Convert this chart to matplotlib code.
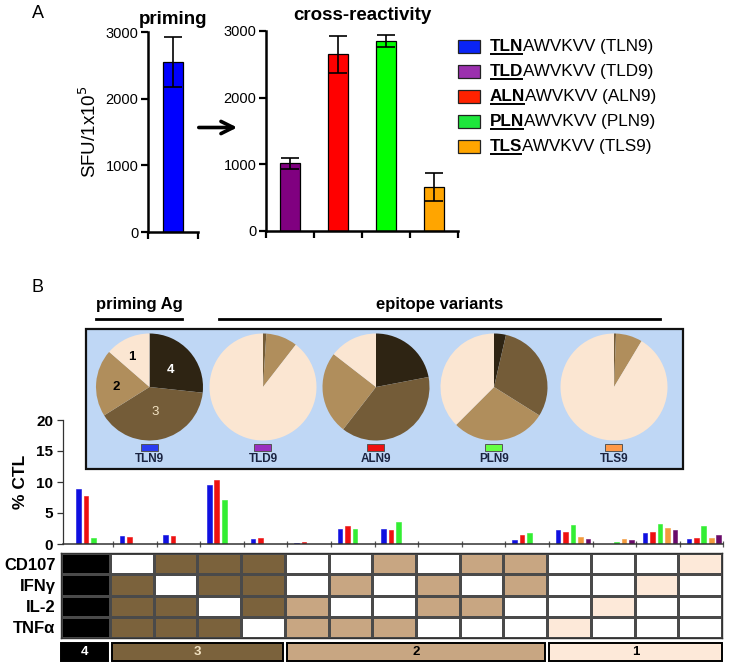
import matplotlib
matplotlib.use("Agg")
import matplotlib.pyplot as plt
from matplotlib.patches import Rectangle
from matplotlib.colors import ListedColormap, BoundaryNorm
import numpy as np

plt.rcParams['font.family'] = ['Liberation Sans', 'DejaVu Sans']

# ---------------- data ----------------
# Panel A
prime_labels = ['TLN9']
prime_vals = [2550]
prime_err = [380]
cross_labels = ['TLD9', 'ALN9', 'PLN9', 'TLS9']
cross_vals = [1015, 2650, 2845, 660]
cross_err = [80, 275, 90, 215]
yticks_A = [0, 1000, 2000, 3000]

legend_prefix = ['TLN', 'TLD', 'ALN', 'PLN', 'TLS']
legend_rest = ['AWVKVV (TLN9)', 'AWVKVV (TLD9)', 'AWVKVV (ALN9)', 'AWVKVV (PLN9)', 'AWVKVV (TLS9)']

# Panel B pies: fractions (%) of 4,3,2,1 functions
pie_labels = ['TLN9', 'TLD9', 'ALN9', 'PLN9', 'TLS9']
pie_f4 = [26.7, 0.0, 22.0, 3.6, 0.0]
pie_f3 = [39.4, 1.0, 38.5, 30.3, 0.6]
pie_f2 = [20.3, 9.5, 25.0, 28.6, 8.0]
pie_f1 = [13.6, 89.5, 14.5, 37.5, 91.4]

# Panel B bars: % CTL per functional combination (15 columns)
ctl_TLN9 = [8.8, 1.3, 1.5, 9.5, 0.8, 0.1, 2.4, 2.4, 0.0, 0.0, 0.7, 2.2, 0.0, 1.75, 0.75]
ctl_ALN9 = [7.7, 1.1, 1.3, 10.4, 0.95, 0.3, 2.9, 2.2, 0.05, 0.0, 1.4, 2.0, 0.05, 2.0, 0.95]
ctl_PLN9 = [1.0, 0.0, 0.05, 7.1, 0.0, 0.0, 2.4, 3.5, 0.0, 0.0, 1.7, 3.0, 0.3, 3.3, 2.85]
ctl_TLS9 = [0.0, 0.0, 0.0, 0.0, 0.0, 0.0, 0.05, 0.0, 0.0, 0.0, 0.0, 1.05, 0.8, 2.6, 0.9]
ctl_TLD9 = [0.0, 0.0, 0.0, 0.0, 0.0, 0.0, 0.0, 0.0, 0.0, 0.0, 0.0, 0.75, 0.65, 2.2, 1.4]
yticks_B = [0, 5, 10, 15, 20]

# functional profile (1 = positive)
row_labels = ['CD107', 'IFNγ', 'IL-2', 'TNFα']
cd107 = [1, 0, 1, 1, 1, 0, 0, 1, 0, 1, 1, 0, 0, 0, 1]
ifng  = [1, 1, 0, 1, 1, 0, 1, 0, 1, 0, 1, 0, 0, 1, 0]
il2   = [1, 1, 1, 0, 1, 1, 0, 0, 1, 1, 0, 0, 1, 0, 0]
tnfa  = [1, 1, 1, 1, 0, 1, 1, 1, 0, 0, 0, 1, 0, 0, 0]
group_names = ['4', '3', '2', '1']

# ---------------- styles ----------------
colA = {'TLN9': '#0000ff', 'TLD9': '#800080', 'ALN9': '#ff0000', 'PLN9': '#00ff00', 'TLS9': '#ffa500'}
colLeg = ['#0a24f5', '#9b30ae', '#ff2200', '#1ee63c', '#ffa500']
colB = {'TLN9': '#1010e0', 'ALN9': '#ee1111', 'PLN9': '#33ee33', 'TLS9': '#f39a3c', 'TLD9': '#6a0a6a'}
colMark = ['#2b3cf0', '#9a2fc0', '#ee1010', '#66ff44', '#ff9a4a']
pie_cols = ['#2e2413', '#745c38', '#b08e5c', '#fbe6d2']
heat_cols = ['#ffffff', '#fde9d9', '#c8a682', '#7b623c', '#000000']

W, H = 729, 667
fig = plt.figure(figsize=(W / 100, H / 100), dpi=100)


def ax_px(x0, y0, x1, y1, **kw):
    return fig.add_axes([x0 / W, 1 - y1 / H, (x1 - x0) / W, (y1 - y0) / H], **kw)


# overlay for annotations
ov = ax_px(0, 0, W, H)
ov.set_xlim(0, W)
ov.set_ylim(H, 0)
ov.axis('off')

# ---------------- Panel A ----------------
ov.text(38, 14, 'A', fontsize=13, ha='center', va='center')


def style_A(ax, n):
    ax.set_ylim(0, 3000)
    ax.set_xlim(-0.5, n - 0.5)
    ax.set_yticks(yticks_A)
    ax.set_xticks(np.arange(n + 1) - 0.5)
    ax.set_xticklabels([])
    for s in ['top', 'right']:
        ax.spines[s].set_visible(False)
    for s in ['left', 'bottom']:
        ax.spines[s].set_linewidth(1.8)
    ax.tick_params(axis='both', length=5, width=1.6, labelsize=10.5, pad=2)
    ax.patch.set_alpha(0)


axp = ax_px(148, 32, 198, 232)
axp.bar(range(len(prime_vals)), prime_vals, width=0.4, color=[colA[l] for l in prime_labels],
        edgecolor='black', linewidth=0.9, yerr=prime_err, capsize=6.5,
        error_kw=dict(elinewidth=1.2, capthick=1.2, ecolor='black'))
style_A(axp, 1)
axp.set_ylabel('SFU/1x10$^5$', fontsize=13.5, labelpad=4)
axp.set_title('priming', fontsize=13.5, fontweight='bold', pad=6)

axc = ax_px(266, 31, 458, 231)
axc.bar(range(len(cross_vals)), cross_vals, width=0.4, color=[colA[l] for l in cross_labels],
        edgecolor='black', linewidth=0.9, yerr=cross_err, capsize=6.5,
        error_kw=dict(elinewidth=1.2, capthick=1.2, ecolor='black'))
style_A(axc, 4)
axc.set_title('cross-reactivity', fontsize=13.5, fontweight='bold', pad=8)

ov.annotate('', xy=(240, 127.5), xytext=(196, 127.5),
            arrowprops=dict(arrowstyle='->', lw=2.6, color='black', mutation_scale=22))

# legend
leg_y = [46.7, 71.3, 96.3, 121.3, 146.3]
fig.canvas.draw()
renderer = fig.canvas.get_renderer()
inv = ov.transData.inverted()
for i, (pre, rest) in enumerate(zip(legend_prefix, legend_rest)):
    y = leg_y[i]
    ov.add_patch(Rectangle((458, y - 6.5), 22, 13, facecolor=colLeg[i], edgecolor='#222222', lw=0.9))
    t = ov.text(490, y, pre, fontsize=12.3, fontweight='bold', va='center', ha='left')
    bb = t.get_window_extent(renderer=renderer)
    (x0d, y0d), (x1d, y1d) = inv.transform([[bb.x0, bb.y0], [bb.x1, bb.y1]])
    ov.text(x1d, y, rest, fontsize=12.3, va='center', ha='left')
    ov.plot([x0d, x1d], [y + 7.2, y + 7.2], color='black', lw=1.4, solid_capstyle='butt')

# ---------------- Panel B ----------------
ov.text(38, 287, 'B', fontsize=13, ha='center', va='center')
ov.text(139, 304, 'priming Ag', fontsize=12, fontweight='bold', ha='center', va='center')
ov.plot([96, 182], [319, 319], color='black', lw=2)
ov.text(440, 304, 'epitope variants', fontsize=12, fontweight='bold', ha='center', va='center')
ov.plot([219, 660], [319, 319], color='black', lw=2)
ov.add_patch(Rectangle((86, 329), 597, 140, facecolor='#bfd7f5', edgecolor='#111111', lw=1.6, zorder=0))

pie_cx = [149.5, 263, 376, 494, 614]
pie_cy = 387
pie_r = 53.5
pie_axes = []
for i in range(5):
    cx = pie_cx[i]
    pa = ax_px(cx - pie_r, pie_cy - pie_r, cx + pie_r, pie_cy + pie_r)
    fr = [pie_f4[i], pie_f3[i], pie_f2[i], pie_f1[i]]
    pa.pie(fr, colors=pie_cols, startangle=90, counterclock=False, radius=1,
           wedgeprops=dict(linewidth=0))
    pa.set_xlim(-1, 1)
    pa.set_ylim(-1, 1)
    pa.set_aspect('equal')
    pa.axis('off')
    pie_axes.append(pa)
    ov.add_patch(Rectangle((cx - 8.5, 444), 17, 6.5, facecolor=colMark[i], edgecolor='#555555', lw=0.7))
    ov.text(cx, 459.5, pie_labels[i], fontsize=8.5, fontweight='bold', color='#1a2340',
            ha='center', va='center')

# labels inside the first pie (number of functions)
p0 = pie_axes[0]
p0.text(-0.33, 0.56, '1', fontsize=9.5, fontweight='bold', color='black', ha='center', va='center')
p0.text(0.40, 0.32, '4', fontsize=9.5, fontweight='bold', color='white', ha='center', va='center')
p0.text(-0.63, 0.0, '2', fontsize=9.5, fontweight='bold', color='black', ha='center', va='center')
p0.text(0.10, -0.47, '3', fontsize=9.5, color='#f3e3c3', ha='center', va='center')

# bar chart B
axb = ax_px(63, 420, 723.4, 544)
series = [('TLN9', ctl_TLN9), ('ALN9', ctl_ALN9), ('PLN9', ctl_PLN9), ('TLS9', ctl_TLS9), ('TLD9', ctl_TLD9)]
ncol = len(ctl_TLN9)
xg = np.arange(ncol)
for k, (name, vals) in enumerate(series):
    axb.bar(xg + 0.206 + 0.172 * k, vals, width=0.105, color=colB[name],
            edgecolor=colB[name], linewidth=0.4)
axb.set_xlim(-0.15, ncol)
axb.set_ylim(0, 20)
axb.set_yticks(yticks_B)
axb.set_xticks(np.arange(1, ncol + 1))
axb.set_xticklabels([])
for s in ['top', 'right']:
    axb.spines[s].set_visible(False)
axb.spines['left'].set_color('#333333')
axb.spines['bottom'].set_color('#333333')
axb.spines['left'].set_linewidth(0.9)
axb.spines['bottom'].set_linewidth(1.1)
axb.tick_params(axis='y', length=4, width=0.9, labelsize=11, pad=3, colors='#333333', labelcolor='black')
axb.tick_params(axis='x', direction='inout', length=5, width=0.9, colors='#555555')
for lab in axb.get_yticklabels():
    lab.set_fontweight('bold')
axb.set_ylabel('% CTL', fontsize=12.5, fontweight='bold', labelpad=6)
axb.patch.set_alpha(0)

# heatmap
widths = np.array([1.12] + [1.0] * (ncol - 1))
xedges = np.concatenate([[0], np.cumsum(widths)])
prof = np.array([cd107, ifng, il2, tnfa])
nfun = prof.sum(axis=0)
level = prof * nfun[None, :]
cmap = ListedColormap(heat_cols)
norm = BoundaryNorm(np.arange(-0.5, 5.5, 1), cmap.N)
axh = ax_px(61, 553, 722, 638)
axh.pcolormesh(xedges, np.arange(5), level, cmap=cmap, norm=norm,
               edgecolors='#4a4a4a', linewidth=0.8)
axh.set_xlim(xedges[0], xedges[-1])
axh.set_ylim(4, 0)
axh.set_xticks([])
axh.set_yticks(np.arange(4) + 0.5)
axh.set_yticklabels(row_labels, fontsize=12, fontweight='bold')
axh.tick_params(axis='y', length=0, pad=4)
for s in axh.spines.values():
    s.set_linewidth(1.0)
    s.set_color('#333333')

# group legend bar
axg = ax_px(61, 642, 722, 662)
axg.set_xlim(xedges[0], xedges[-1])
axg.set_ylim(0, 1)
axg.axis('off')
group_cols = ['#000000', '#7b623c', '#c8a682', '#fde9d9']
group_txt = ['white', '#f3e3c3', 'black', 'black']
group_span = [(0, 1), (1, 5), (5, 11), (11, 15)]
for j, (a, b) in enumerate(group_span):
    x0 = xedges[a] + (0.0 if a == 0 else 0.05)
    x1 = xedges[b] - (0.0 if b == ncol else 0.05)
    axg.add_patch(Rectangle((x0, 0.05), x1 - x0, 0.9, facecolor=group_cols[j],
                            edgecolor='black', lw=1.4, clip_on=False))
    axg.text((x0 + x1) / 2, 0.5, group_names[j], fontsize=9.5, fontweight='bold',
             color=group_txt[j], ha='center', va='center')

fig.savefig('out.png', dpi=100)
